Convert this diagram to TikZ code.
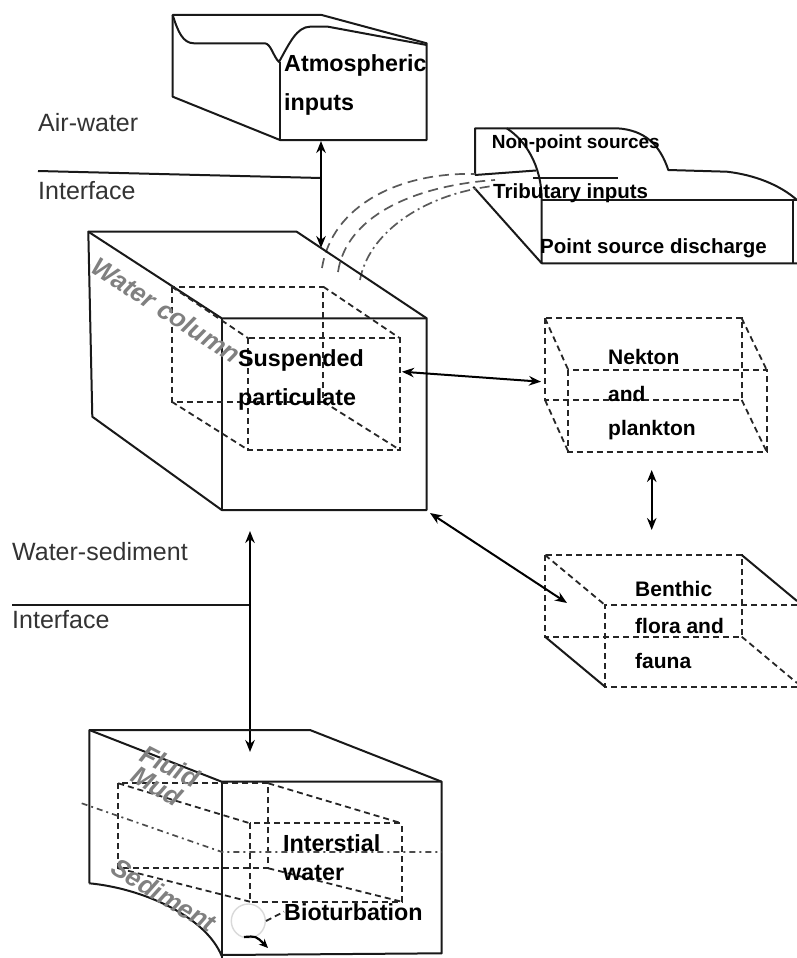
\documentclass[tikz,border=0pt]{standalone}
\usepackage{fontspec}
\setmainfont{Liberation Sans}
\usetikzlibrary{arrows.meta}
\begin{document}
\begin{tikzpicture}[x=1pt,y=-1pt,
  edge/.style={line width=2pt, draw=black!90, line join=round},
  hidden/.style={line width=1.8pt, draw=black!85, dash pattern=on 6pt off 4pt},
  flow/.style={line width=1.7pt, draw=black!65, dash pattern=on 10pt off 6pt},
  flowdot/.style={line width=1.7pt, draw=black!65, dash pattern=on 10pt off 4pt on 2pt off 4pt},
  dashdot/.style={line width=1.7pt, draw=black!70, dash pattern=on 6pt off 4pt on 2pt off 4pt},
  link/.style={line width=2pt, {Stealth[length=12pt,width=9.5pt]}-{Stealth[length=12pt,width=9.5pt]}},
  lbl/.style={anchor=base west, inner sep=0pt, text=black!80, font=\fontsize{25}{28}\selectfont},
  boxtext/.style={anchor=base west, inner sep=0pt, font=\fontsize{23.3}{26}\selectfont\bfseries},
  smalltext/.style={anchor=base west, inner sep=0pt, font=\fontsize{20.5}{24}\selectfont\bfseries},
  face/.style={text=black!50, inner sep=0pt, font=\fontsize{26}{30}\selectfont\bfseries\itshape},
]
\useasboundingbox (0,0) rectangle (797,958);

% ---------- Atmospheric inputs block ----------
\draw[edge] (172.7,15) -- (321.7,15) -- (426.7,43.3) -- (426.7,140) -- (280,140) -- (172.7,96.7) -- cycle;
\draw[edge] (280,62) -- (280,140);
\draw[edge] (172.7,15) .. controls (178,32) and (183,43.3) .. (194,43.3) -- (265,43.3)
  .. controls (271,44) and (273,56) .. (279,62)
  .. controls (290,42) and (297,27) .. (310,26.7) -- (328,26.7) -- (426.7,45);
\node[boxtext] (atmA) at (284,71.7) {Atmospheric};
\node[boxtext] (atmB) at (284,110) {inputs};

% air-water interface
\node[lbl] (aw1) at (38,131.7) {Air-water};
\node[lbl] (aw2) at (38,199) {Interface};
\coordinate (awL) at (38,171);
\coordinate (awR) at (321,178);
\draw[edge] (awL) -- (awR);
\coordinate (atmBot) at (321,141);
\coordinate (wcTop) at (321,248);
\draw[link] (atmBot) -- (wcTop);

% ---------- Sources block ----------
\draw[edge] (475,175) -- (475,128.3) -- (617,128.3) .. controls (645,130) and (660,145) .. (668.3,170)
  -- (727,171.7) .. controls (755,175) and (780,185) .. (797,200);
\draw[edge] (475,175) -- (536,170.5);
\draw[edge] (506.7,128.3) .. controls (525,140) and (541.7,165) .. (541.7,200) -- (541.7,263.3) -- (797,263.3);
\draw[edge] (541.7,200) -- (797,200);
\draw[edge] (793,200) -- (793,263.3);
\draw[edge] (533,178.3) -- (618,178.3);
\draw[edge] (473.3,186.7) -- (541.7,263.3);
\node[smalltext, font=\fontsize{19}{22}\selectfont\bfseries] (nps) at (491.7,148.3) {Non-point sources};
\node[smalltext] (trib) at (493,198) {Tributary inputs};
\node[smalltext] (psd) at (540,253.3) {Point source discharge};

% flows from the sources into the water column
\draw[flow] (322,268) .. controls (332,205) and (400,172) .. (475,174);
\draw[flow] (338,272) .. controls (346,218) and (410,186) .. (495,180);
\draw[flowdot] (360,280) .. controls (368,235) and (420,195) .. (493,186);

% ---------- Water column ----------
\draw[edge] (88.3,231.7) -- (296.7,231.7) -- (426.7,318.3) -- (426.7,510) -- (221.7,510) -- (92.3,416.7) -- cycle;
\draw[edge] (88.3,231.7) -- (221.7,318.3) -- (426.7,318.3);
\draw[edge] (221.7,318.3) -- (221.7,510);
\draw[hidden] (171.7,286.7) rectangle (323.3,401.7);
\draw[hidden] (248.3,338.3) rectangle (400,450);
\draw[hidden] (171.7,286.7) -- (248.3,338.3);
\draw[hidden] (323.3,286.7) -- (400,338.3);
\draw[hidden] (171.7,401.7) -- (248.3,450);
\draw[hidden] (323.3,401.7) -- (400,450);
\node[face, rotate=-33] (wcol) at (166,310) {Water column};
\node[boxtext] (suspA) at (238,366.7) {Suspended};
\node[boxtext] (suspB) at (238,405) {particulate};

% ---------- Nekton and plankton ----------
\draw[hidden] (545,318.3) rectangle (741.7,400);
\draw[hidden] (568.3,370) rectangle (766.7,451.7);
\draw[hidden] (545,318.3) -- (568.3,370);
\draw[hidden] (741.7,318.3) -- (766.7,370);
\draw[hidden] (545,400) -- (568.3,451.7);
\draw[hidden] (741.7,400) -- (766.7,451.7);
\node[smalltext, font=\fontsize{21}{24}\selectfont\bfseries] (nekA) at (608,364) {Nekton};
\node[smalltext, font=\fontsize{21}{24}\selectfont\bfseries] (nekB) at (608,401.7) {and};
\node[smalltext, font=\fontsize{21}{24}\selectfont\bfseries] (nekC) at (608,435) {plankton};

% ---------- Benthic flora and fauna ----------
\draw[hidden] (545,555) rectangle (741.7,636.7);
\draw[hidden] (797,605) -- (605,605) -- (605,686.7) -- (797,686.7);
\draw[hidden] (545,555) -- (605,605);
\draw[edge] (741.7,555) -- (797,601);
\draw[edge] (545,636.7) -- (605,686.7);
\draw[hidden] (741.7,636.7) -- (797,683);
\node[smalltext, font=\fontsize{21}{24}\selectfont\bfseries] (benA) at (635,596.7) {Benthic};
\node[smalltext, font=\fontsize{21}{24}\selectfont\bfseries] (benB) at (635,633.3) {flora and};
\node[smalltext, font=\fontsize{21}{24}\selectfont\bfseries] (benC) at (635,668.3) {fauna};

% exchanges between compartments
\coordinate (wcR) at (402,371.7);
\coordinate (nekL) at (541,381.7);
\draw[link] (wcR) -- (nekL);
\coordinate (nekBot) at (651.7,470);
\coordinate (benTop) at (651.7,530);
\draw[link] (nekBot) -- (benTop);
\coordinate (wcCorner) at (430,513);
\coordinate (benIn) at (567,603);
\draw[link] (wcCorner) -- (benIn);

% water-sediment interface
\node[lbl] (ws1) at (12,560) {Water-sediment};
\node[lbl] (ws2) at (12,628.3) {Interface};
\coordinate (wsL) at (12,605);
\coordinate (wsR) at (250,605);
\draw[edge] (wsL) -- (wsR);
\coordinate (wcBot) at (250,531);
\coordinate (sedTop) at (250,752);
\draw[link] (wcBot) -- (sedTop);

% ---------- Sediment block ----------
\draw[edge] (89.3,883.3) -- (89.3,730) -- (310,730) -- (441.7,781.7) -- (441.7,953.3) -- (221.7,955);
\draw[edge] (89.3,730) -- (221.7,781.7) -- (441.7,781.7);
\draw[edge] (221.7,781.7) -- (221.7,958);
\draw[edge] (89.3,883.3) .. controls (140,888) and (205,915) .. (221.7,956);
\draw[hidden] (118.3,783.3) rectangle (268.3,868.3);
\draw[hidden] (250,823.3) rectangle (401.7,901.7);
\draw[hidden] (118.3,783.3) -- (250,823.3);
\draw[hidden] (268.3,783.3) -- (401.7,823.3);
\draw[hidden] (118.3,868.3) -- (250,901.7);
\draw[hidden] (268.3,868.3) -- (401.7,901.7);
\draw[dashdot] (81.7,803.3) -- (222,852) -- (441.7,852);
\node[face, rotate=-27] (fluid) at (170,766) {Fluid};
\node[face, rotate=-30] (mud) at (157,786) {Mud};
\node[face, rotate=-31] (sedim) at (164,895) {Sediment};
\node[boxtext] (intA) at (283,851.7) {Interstial};
\node[boxtext] (intB) at (283,880) {water};
\node[boxtext] (biot) at (284,920) {Bioturbation};
\node[circle, draw=black!15, line width=1.4pt, minimum size=34pt, inner sep=0pt] (burrow) at (248.3,921) {};
\draw[hidden] (burrow.east) -- (biot.west);
\coordinate (bioA) at (244,937);
\coordinate (bioB) at (268,948);
\draw[line width=2.2pt, -{Stealth[length=9pt,width=8pt]}] (bioA) .. controls (256,936) .. (bioB);
\end{tikzpicture}
\end{document}
